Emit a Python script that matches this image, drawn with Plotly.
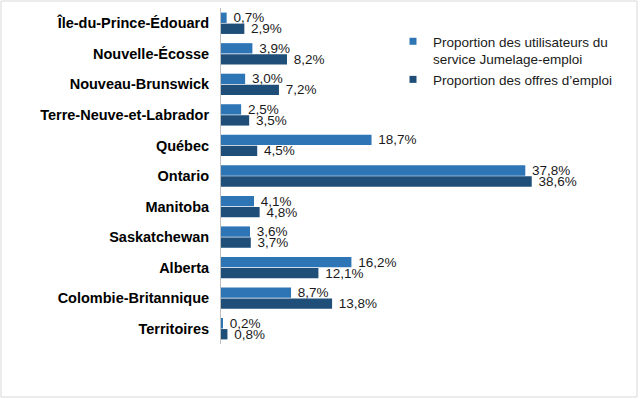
import plotly.graph_objects as go

provinces = [
    "Île-du-Prince-Édouard", "Nouvelle-Écosse", "Nouveau-Brunswick",
    "Terre-Neuve-et-Labrador", "Québec", "Ontario", "Manitoba",
    "Saskatchewan", "Alberta", "Colombie-Britannique", "Territoires",
]
users_pct = [0.7, 3.9, 3.0, 2.5, 18.7, 37.8, 4.1, 3.6, 16.2, 8.7, 0.2]
offers_pct = [2.9, 8.2, 7.2, 3.5, 4.5, 38.6, 4.8, 3.7, 12.1, 13.8, 0.8]
series_names = [
    "Proportion des utilisateurs du<br>service Jumelage-emploi",
    "Proportion des offres d\u2019emploi",
]
colors = ["#2E75B6", "#1F4E79"]

W, H = 640, 399
ML, MR, MT, MB = 221, 19, 8, 55
PW, PH = W - ML - MR, H - MT - MB
FONT = "Liberation Sans, Arial, sans-serif"

fig = go.Figure()
for vals, col in zip([users_pct, offers_pct], colors):
    fig.add_trace(go.Bar(
        y=provinces, x=vals, orientation="h",
        marker=dict(color=col, line=dict(width=0)),
        texttemplate=" %{x:.1f}%", textposition="outside",
        textfont=dict(family=FONT, size=13.5, color="#1a1a1a"),
        constraintext="none", cliponaxis=False,
        showlegend=False, hoverinfo="skip",
    ))
for name, col in zip(series_names, colors):
    fig.add_trace(go.Scatter(
        x=[None], y=[None], mode="markers", name=name,
        marker=dict(symbol="square", size=7, color=col),
    ))

fig.update_layout(
    width=W, height=H,
    margin=dict(l=ML, r=MR, t=MT, b=MB, autoexpand=False),
    paper_bgcolor="white", plot_bgcolor="white",
    separators=", ",
    barmode="group", bargap=0.28, bargroupgap=0.06,
    font=dict(family=FONT, size=13.5, color="#1a1a1a"),
    xaxis=dict(range=[0, PW / 8.05], visible=False, showgrid=False,
               zeroline=False, automargin=False),
    yaxis=dict(
        autorange="reversed", showline=True, linecolor="#BFBFBF", linewidth=1,
        ticks="", showgrid=False, ticklabelstandoff=8, automargin=False,
        tickfont=dict(family=FONT, size=14.5, color="#000000", weight="bold"),
    ),
    legend=dict(
        x=(393 - ML) / PW, xanchor="left",
        y=1 - (26 - MT) / PH, yanchor="top",
        valign="top", itemwidth=30,
        font=dict(family=FONT, size=13.5, color="#1a1a1a"),
        bgcolor="rgba(0,0,0,0)", tracegroupgap=0,
    ),
    shapes=[dict(
        type="rect", xref="paper", yref="paper",
        x0=(1 - ML) / PW, x1=(637 - ML) / PW,
        y0=1 - (397 - MT) / PH, y1=1 - (1 - MT) / PH,
        line=dict(color="#D9D9D9", width=1), fillcolor="rgba(0,0,0,0)",
        layer="below",
    )],
)

fig.write_html(
    "out.html",
    config={"displayModeBar": False},
    post_script="document.body.style.margin='0';document.body.style.padding='0';",
)
